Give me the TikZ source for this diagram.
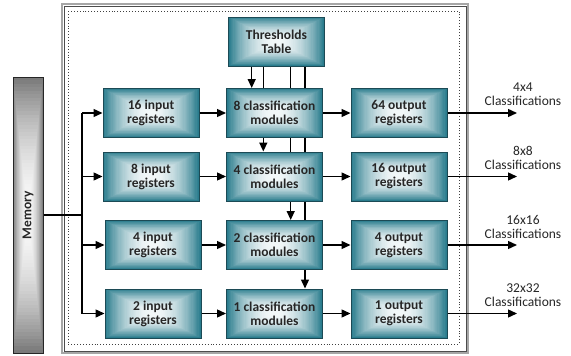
\documentclass[tikz,border=0pt]{standalone}
\usepackage{fontspec}
\usepackage{graphicx}
\setmainfont{Carlito}
\usetikzlibrary{arrows.meta,backgrounds,calc}
\definecolor{tealA}{HTML}{2A7C8D}
\definecolor{tealB}{HTML}{1C4A55}
\definecolor{memA}{HTML}{7A7A7A}
\definecolor{txt}{HTML}{262626}
\tikzset{rgrad/.style={path picture={
  \foreach \s in {1,0.975,...,0.02} {
    \pgfmathtruncatemacro\p{95*(1-\s*\s)}
    \fill[white!\p!#1] ($(path picture bounding box.center)!\s!(path picture bounding box.south west)$)
      rectangle ($(path picture bounding box.center)!\s!(path picture bounding box.north east)$);
  }}}}
\begin{document}
\begin{tikzpicture}[x=1pt,y=-1pt,
  blk/.style={draw=tealB, line width=1pt, rgrad=tealA,
    minimum width=96pt, minimum height=49pt, inner sep=0pt,
    font=\fontsize{13.5}{14}\selectfont\bfseries, text=txt, align=center},
  arr/.style={line width=1.4pt, -{Triangle[length=9pt,width=8pt]}},
  ln/.style={line width=1.4pt},
  lab/.style={font=\fontsize{13.5}{14}\selectfont, text=txt, align=center}]
\useasboundingbox (0,0) rectangle (571,356);
% frames
\draw[gray!70, line width=1.6pt] (62,4) rectangle (468,353);
\draw[black!70, line width=0.6pt] (64.5,6.5) rectangle (466,351);
\draw[black!75, dotted, line width=0.9pt] (68,11) rectangle (459,344);
% memory
\node[draw=black!85, line width=1pt, minimum width=30pt, minimum height=276pt, inner sep=0pt,
  rgrad=memA,
  font=\fontsize{13.5}{14}\selectfont\bfseries, text=txt] (mem) at (28,215) {\rotatebox{90}{Memory}};
% boxes
\node[blk] (tab) at (276.5,41.5) {Thresholds\\Table};
\node[blk] (i16) at (151,113) {16 input\\registers};
\node[blk] (i8)  at (151,176.5) {8 input\\registers};
\node[blk] (i4)  at (153,245) {4 input\\registers};
\node[blk] (i2)  at (153,313.5) {2 input\\registers};
\node[blk] (c8) at (274.5,113) {8 classification\\modules};
\node[blk] (c4) at (274.5,176.5) {4 classification\\modules};
\node[blk] (c2) at (274.5,245) {2 classification\\modules};
\node[blk] (c1) at (274.5,313.5) {1 classification\\modules};
\node[blk] (o64) at (399,113) {64 output\\registers};
\node[blk] (o16) at (399,176.5) {16 output\\registers};
\node[blk] (o4)  at (399,245) {4 output\\registers};
\node[blk] (o1)  at (399,313.5) {1 output\\registers};
% labels
\node[lab] (l1) at (523,94.5) {4x4\\Classifications};
\node[lab] (l2) at (523,158) {8x8\\Classifications};
\node[lab] (l3) at (523,226.5) {16x16\\Classifications};
\node[lab] (l4) at (523,295) {32x32\\Classifications};
% coordinates
\coordinate (bus) at (82,215);
\coordinate (ext) at (517,0);
\coordinate (v1) at (251.7,0);
\coordinate (v2) at (263.3,0);
\coordinate (v3) at (290.7,0);
\coordinate (v4) at (305,0);
\begin{scope}[on background layer]
\draw[arr] (tab.south -| v1) -- (c8.north -| v1);
\draw[arr] (tab.south -| v2) -- (c4.north -| v2);
\draw[arr] (tab.south -| v3) -- (c2.north -| v3);
\draw[arr] (tab.south -| v4) -- (c1.north -| v4);
\end{scope}
% memory bus
\draw[ln] (mem.east) -- (bus);
\draw[ln] (i16.west -| bus) -- (i2.west -| bus);
\foreach \n in {i16,i8,i4,i2} \draw[arr] (\n.west -| bus) -- (\n.west);
% rows
\draw[arr] (i16) -- (c8);
\draw[arr] (i8) -- (c4);
\draw[arr] (i4) -- (c2);
\draw[arr] (i2) -- (c1);
\draw[arr] (c8) -- (o64);
\draw[arr] (c4) -- (o16);
\draw[arr] (c2) -- (o4);
\draw[arr] (c1) -- (o1);
\foreach \n in {o64,o16,o4,o1} \draw[arr] (\n.east) -- (\n.east -| ext);
\end{tikzpicture}
\end{document}
